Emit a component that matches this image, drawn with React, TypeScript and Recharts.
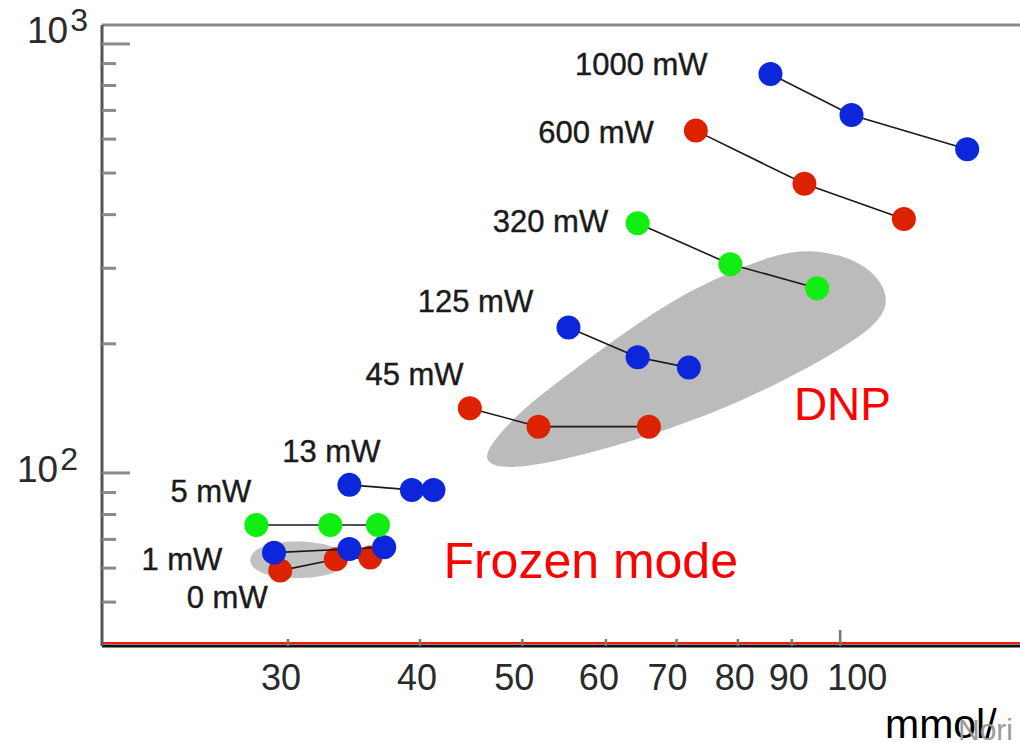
import { ScatterChart, Scatter, XAxis, YAxis, ReferenceLine } from "recharts";

const FONT = "'Liberation Sans', Arial, Helvetica, sans-serif";

const X_TICKS = [30, 40, 50, 60, 70, 80, 90, 100];
const Y_TICKS = [50, 60, 70, 80, 90, 100, 200, 300, 400, 500, 600, 700, 800, 900, 1000];
const X_DOMAIN = [20, 148];
const Y_DOMAIN = [39.5, 1107];

// concentration (mmol/l) vs enhancement, one run per microwave power
const P0_X = [29.5, 33.3, 35.9];
const P0_Y = [59.2, 62.9, 63.5];
const P1_X = [29.1, 34.3, 37.0];
const P1_Y = [65.2, 66.5, 67.1];
const P5_X = [28.0, 32.9, 36.5];
const P5_Y = [75.6, 75.6, 75.6];
const P13_X = [34.3, 39.3, 41.2];
const P13_Y = [93.8, 91.3, 91.3];
const P45_X = [44.6, 51.8, 65.9];
const P45_Y = [141.5, 128.2, 128.2];
const P125_X = [55.3, 64.3, 71.9];
const P125_Y = [218.2, 186.1, 176.0];
const P320_X = [64.3, 78.7, 95.1];
const P320_Y = [382, 306.6, 269.6];
const P600_X = [73.0, 92.5, 114.9];
const P600_Y = [628, 472, 391];
const P1000_X = [85.9, 102.5, 131.9];
const P1000_Y = [851, 683, 568];

// power labels, anchored at their right end / baseline
const LABEL_TEXT = ["1000 mW", "600 mW", "320 mW", "125 mW", "45 mW", "13 mW", "5 mW", "1 mW", "0 mW"];
const LABEL_X = [74.9, 66.6, 60.3, 51.2, 44.0, 36.7, 27.7, 26.0, 28.7];
const LABEL_Y = [846.7, 587.7, 364.6, 237.3, 160.4, 106.1, 85.6, 59.4, 48.5];

// shaded regions (outline control points)
const DNP_X = [45.7, 50.2, 69.6, 86.6, 104.0, 112.9, 107.0, 93.2, 83.6, 69.6, 58.1, 50.2, 46.7];
const DNP_Y = [104.4, 100.7, 126.0, 158.7, 204.2, 245.1, 308.7, 338, 313.7, 257.2, 186.4, 142.5, 117.5];
const FROZEN_X = [27.4, 28.1, 30.6, 33.4, 34.3, 33.4, 30.6, 28.1];
const FROZEN_Y = [62.7, 67.8, 70.0, 67.8, 62.7, 58.0, 56.3, 58.0];

const BLUE = "#0b27d9";
const RED = "#dc2200";
const GREEN = "#11ee11";

const zip = (xs: number[], ys: number[]) => xs.map((x, i) => ({ x, y: ys[i] }));

const SERIES = [
  { name: "0 mW", color: RED, data: zip(P0_X, P0_Y) },
  { name: "1 mW", color: BLUE, data: zip(P1_X, P1_Y) },
  { name: "5 mW", color: GREEN, data: zip(P5_X, P5_Y) },
  { name: "13 mW", color: BLUE, data: zip(P13_X, P13_Y) },
  { name: "45 mW", color: RED, data: zip(P45_X, P45_Y) },
  { name: "125 mW", color: BLUE, data: zip(P125_X, P125_Y) },
  { name: "320 mW", color: GREEN, data: zip(P320_X, P320_Y) },
  { name: "600 mW", color: RED, data: zip(P600_X, P600_Y) },
  { name: "1000 mW", color: BLUE, data: zip(P1000_X, P1000_Y) },
];

const labelData = LABEL_TEXT.map((label, i) => ({ x: LABEL_X[i], y: LABEL_Y[i], label }));
const regionText = [
  { x: 90.4, y: 132.9, label: "DNP", size: 46 },
  { x: 42.1, y: 56.9, label: "Frozen mode", size: 50 },
];

const X_NUDGE: Record<number, number> = { 30: -7, 40: -3, 50: -8, 60: -7, 70: -9, 80: -3, 90: -3, 100: 17 };

function XTick(props: any) {
  const { x, y, payload } = props;
  const v = payload.value;
  const len = v === 100 ? 16 : 7;
  return (
    <g>
      <line x1={x} x2={x} y1={y} y2={y - len} stroke="#777" strokeWidth={2.5} />
      <text x={x + (X_NUDGE[v] ?? 0)} y={y + 44} textAnchor="middle" fontSize={36} fill="#2a2a2a" fontFamily={FONT}>
        {v}
      </text>
    </g>
  );
}

function YTick(props: any) {
  const { x, y, payload } = props;
  const v = payload.value;
  const major = v === 100 || v === 1000;
  const is1000 = v === 1000;
  return (
    <g>
      <line x1={x} x2={x + (major ? 28 : 14)} y1={y} y2={y} stroke="#8a8a8a" strokeWidth={3} />
      {major && (
        <text
          x={x - (is1000 ? 14 : 24)}
          y={y + (is1000 ? -1 : 9)}
          textAnchor="end"
          fontSize={37}
          fill="#2a2a2a"
          fontFamily={FONT}
        >
          <tspan>10</tspan>
          <tspan dx={2} dy={-12} fontSize={32}>
            {is1000 ? "3" : "2"}
          </tspan>
        </text>
      )}
    </g>
  );
}

const Dot = (p: any) => <circle cx={p.cx} cy={p.cy} r={12} fill={p.fill} />;

export default function App() {
  return (
    <div style={{ position: "absolute", left: 0, top: 0, width: 1020, height: 743, background: "#fff", overflow: "hidden" }}>
      <ScatterChart width={1020} height={743} margin={{ top: 25, right: 0, bottom: 0, left: 0 }}>
        <XAxis
          dataKey="x"
          type="number"
          scale="log"
          domain={X_DOMAIN}
          allowDataOverflow
          ticks={X_TICKS}
          interval={0}
          height={97}
          tickSize={0}
          tickMargin={0}
          tickLine={false}
          axisLine={{ stroke: "#111", strokeWidth: 3 }}
          tick={<XTick />}
          label={(p: any) => {
            const vb = p.viewBox;
            return (
              <g>
                <text x={vb.x + vb.width - 135} y={vb.y + 92} fontSize={41} fill="#000" fontFamily={FONT}>
                  mmol/
                </text>
                <text x={vb.x + vb.width - 62} y={vb.y + 94} fontSize={30} fill="#9a9a9a" fontFamily={FONT}>
                  Nori
                </text>
              </g>
            );
          }}
        />
        <YAxis
          dataKey="y"
          type="number"
          scale="log"
          domain={Y_DOMAIN}
          allowDataOverflow
          ticks={Y_TICKS}
          interval={0}
          width={102}
          tickSize={0}
          tickMargin={0}
          tickLine={false}
          axisLine={{ stroke: "#555", strokeWidth: 3 }}
          tick={<YTick />}
        />
        <ReferenceLine y={Y_DOMAIN[1]} stroke="#8a8a8a" strokeWidth={3} />
        <ReferenceLine y={40.12} stroke="#ff1a00" strokeWidth={2} />

        <Scatter
          data={zip(DNP_X, DNP_Y)}
          line={{ fill: "#bbbbbb", stroke: "none" }}
          lineJointType="basisClosed"
          shape={() => <g />}
          isAnimationActive={false}
        />
        <Scatter
          data={zip(FROZEN_X, FROZEN_Y)}
          line={{ fill: "#c2c2c2", stroke: "none" }}
          lineJointType="basisClosed"
          shape={() => <g />}
          isAnimationActive={false}
        />

        {SERIES.map((s) => (
          <Scatter
            key={s.name}
            name={s.name}
            data={s.data}
            fill={s.color}
            line={{ stroke: "#1a1a1a", strokeWidth: 1.6 }}
            shape={<Dot />}
            isAnimationActive={false}
          />
        ))}

        <Scatter
          data={labelData}
          isAnimationActive={false}
          shape={(p: any) => (
            <text x={p.cx} y={p.cy} textAnchor="end" fontSize={31} fill="#1a1a1a" fontFamily={FONT} stroke="#1a1a1a" strokeWidth={0.4}>
              {p.payload.label}
            </text>
          )}
        />
        <Scatter
          data={regionText}
          isAnimationActive={false}
          shape={(p: any) => (
            <text x={p.cx} y={p.cy} fontSize={p.payload.size} fill="#ff0000" fontFamily={FONT}>
              {p.payload.label}
            </text>
          )}
        />
      </ScatterChart>
    </div>
  );
}
